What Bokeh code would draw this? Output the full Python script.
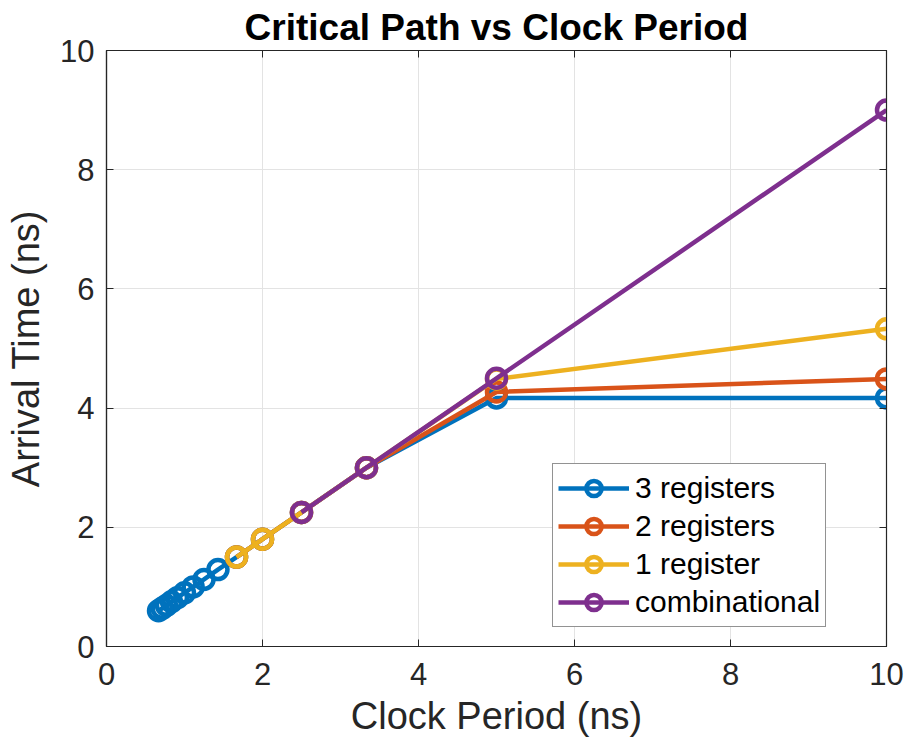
from bokeh.plotting import figure
from bokeh.models import Range1d, LinearAxis, FixedTicker, Legend
from bokeh.embed import file_html
from bokeh.resources import INLINE

# ---- data ----
period = [10, 5, 3.333, 2.5, 2, 1.667, 1.429, 1.25, 1.111, 1.0, 0.909, 0.833, 0.769, 0.714, 0.667]
arr_3reg = [4.17, 4.17, 3.0, 2.25, 1.8, 1.5, 1.29, 1.125, 1.0, 0.9, 0.82, 0.75, 0.69, 0.64, 0.6]
arr_2reg = [4.49, 4.27, 3.0, 2.25, 1.8, 1.5]
arr_1reg = [5.33, 4.49, 3.0, 2.25, 1.8, 1.5]
arr_comb = [9.0, 4.5, 3.0, 2.25]
series_names = ["3 registers", "2 registers", "1 register", "combinational"]
series_vals = [arr_3reg, arr_2reg, arr_1reg, arr_comb]
colors = ["#0072BD", "#D95319", "#EDB120", "#7E2F8E"]
ticks = [0, 2, 4, 6, 8, 10]

FONT = "Liberation Sans"
AX = "#262626"

p = figure(width=907, height=749, output_backend="svg", toolbar_location=None,
           x_range=Range1d(0, 10), y_range=Range1d(0, 10),
           min_border_left=106, min_border_right=21, min_border_top=50, min_border_bottom=103,
           background_fill_color="white", border_fill_color="white")

p.title.text = "Critical Path vs Clock Period"
p.title.align = "center"
p.title.text_font = FONT
p.title.text_font_size = "37px"
p.title.text_font_style = "bold"
p.title.text_color = "black"
p.title.standoff = 5

p.outline_line_color = AX
p.outline_line_width = 1.2

for ax in (p.xaxis[0], p.yaxis[0]):
    ax.ticker = FixedTicker(ticks=ticks)
    ax.major_tick_in = 7
    ax.major_tick_out = 0
    ax.minor_tick_in = 0
    ax.minor_tick_out = 0
    ax.axis_line_color = AX
    ax.axis_line_width = 1.2
    ax.major_tick_line_color = AX
    ax.major_label_text_font = FONT
    ax.major_label_text_font_size = "31px"
    ax.major_label_text_color = AX
    ax.axis_label_text_font = FONT
    ax.axis_label_text_font_size = "38px"
    ax.axis_label_text_font_style = "normal"
    ax.axis_label_text_color = AX

p.xaxis.axis_label = "Clock Period (ns)"
p.yaxis.axis_label = "Arrival Time (ns)"
p.xaxis.major_label_standoff = 16
p.yaxis.major_label_standoff = 12
p.xaxis.axis_label_standoff = 7
p.yaxis.axis_label_standoff = 10

# box ticks on top and right (minor ticks only, so no labels)
for loc in ("above", "right"):
    a = LinearAxis(ticker=FixedTicker(ticks=[], minor_ticks=ticks), major_tick_in=0, major_tick_out=0,
                   minor_tick_in=7, minor_tick_out=0,
                   axis_line_color=AX, minor_tick_line_color=AX, major_label_standoff=0)
    p.add_layout(a, loc)

p.xgrid.ticker = FixedTicker(ticks=ticks)
p.ygrid.ticker = FixedTicker(ticks=ticks)
p.grid.grid_line_color = "#e3e3e3"
p.grid.grid_line_width = 1

items = []
for name, vals, c in zip(series_names, series_vals, colors):
    xs = period[:len(vals)]
    r1 = p.line(xs, vals, line_color=c, line_width=4.5)
    r2 = p.scatter(xs, vals, marker="circle", size=19, line_color=c, line_width=4.5, fill_color=None)
    items.append((name, [r1, r2]))

legend = Legend(items=items, location=(446, 19), orientation="vertical")
legend.label_text_font = FONT
legend.label_text_font_size = "30px"
legend.label_text_color = "black"
legend.glyph_width = 71
legend.glyph_height = 38
legend.label_height = 38
legend.spacing = 0
legend.padding = 5
legend.margin = 0
legend.label_standoff = 6
legend.border_line_color = AX
legend.border_line_width = 1.2
legend.background_fill_color = "white"
legend.background_fill_alpha = 1
p.add_layout(legend, "center")

open("out.html", "w").write(file_html(p, INLINE))
